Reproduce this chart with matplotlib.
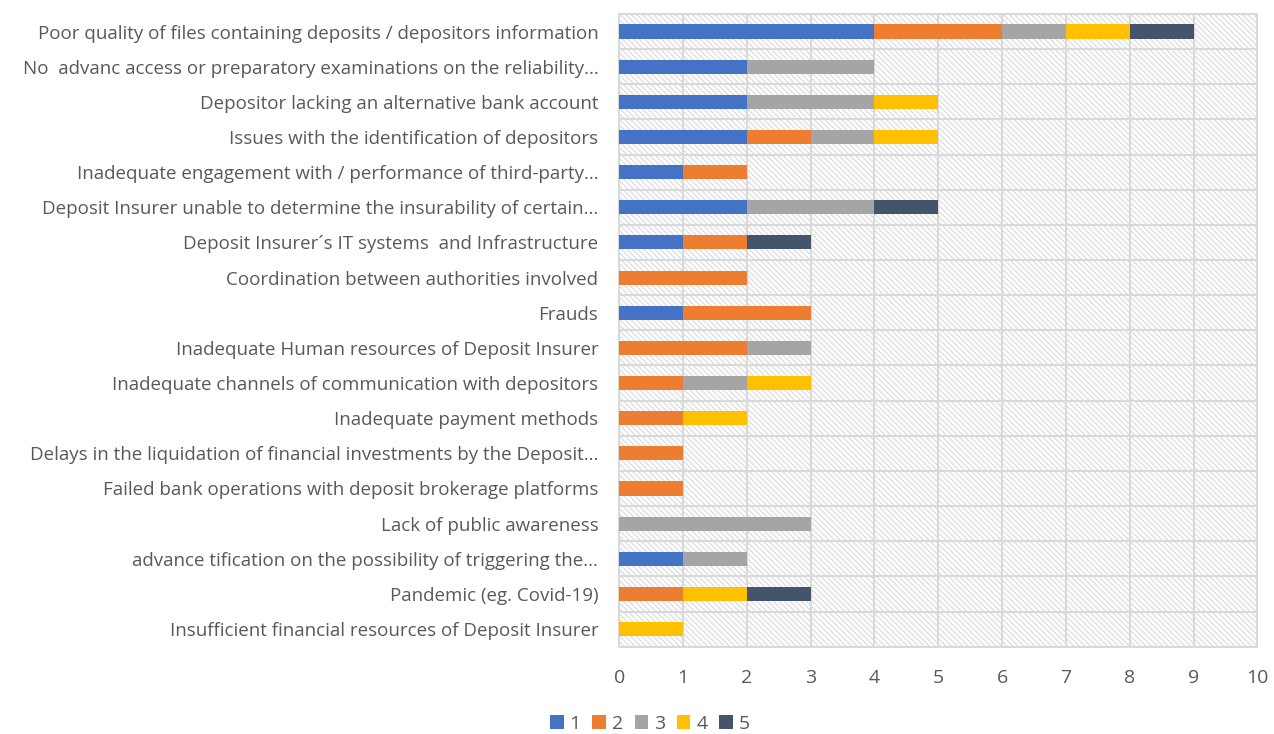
import matplotlib
matplotlib.use("Agg")
import matplotlib.pyplot as plt
from matplotlib.patches import Rectangle
import numpy as np

categories = [
    "Poor quality of files containing deposits / depositors information",
    "No  advanc access or preparatory examinations on the reliability...",
    "Depositor lacking an alternative bank account",
    "Issues with the identification of depositors",
    "Inadequate engagement with / performance of third-party...",
    "Deposit Insurer unable to determine the insurability of certain...",
    "Deposit Insurer\u00b4s IT systems  and Infrastructure",
    "Coordination between authorities involved",
    "Frauds",
    "Inadequate Human resources of Deposit Insurer",
    "Inadequate channels of communication with depositors",
    "Inadequate payment methods",
    "Delays in the liquidation of financial investments by the Deposit...",
    "Failed bank operations with deposit brokerage platforms",
    "Lack of public awareness",
    "advance tification on the possibility of triggering the...",
    "Pandemic (eg. Covid-19)",
    "Insufficient financial resources of Deposit Insurer",
]
s1 = [4, 2, 2, 2, 1, 2, 1, 0, 1, 0, 0, 0, 0, 0, 0, 1, 0, 0]
s2 = [2, 0, 0, 1, 1, 0, 1, 2, 2, 2, 1, 1, 1, 1, 0, 0, 1, 0]
s3 = [1, 2, 2, 1, 0, 2, 0, 0, 0, 1, 1, 0, 0, 0, 3, 1, 0, 0]
s4 = [1, 0, 1, 1, 0, 0, 0, 0, 0, 0, 1, 1, 0, 0, 0, 0, 1, 1]
s5 = [1, 0, 0, 0, 0, 1, 1, 0, 0, 0, 0, 0, 0, 0, 0, 0, 1, 0]
series = [s1, s2, s3, s4, s5]
series_names = ["1", "2", "3", "4", "5"]
colors = ["#4472C4", "#ED7D31", "#A5A5A5", "#FFC000", "#44546A"]

plt.rcParams['font.family'] = ['Open Sans', 'DejaVu Sans']
plt.rcParams['hatch.color'] = '#d9d9d9'
plt.rcParams['hatch.linewidth'] = 0.8

fig = plt.figure(figsize=(12.74, 7.34), dpi=100)
ax = fig.add_axes([0.486, 0.119, 0.501, 0.862])

grid_c = "#d9d9d9"
ax.add_patch(Rectangle((0, 0), 1, 1, transform=ax.transAxes, facecolor="white",
                       edgecolor=grid_c, hatch="\\" * 6, lw=0, zorder=0))

n = len(categories)
y = np.arange(n)
left = np.zeros(n)
for vals, name, c in zip(series, series_names, colors):
    ax.barh(y, vals, left=left, height=0.4, color=c, label=name, zorder=3)
    left += np.array(vals)

ax.set_xlim(0, 10)
ax.set_ylim(n - 0.5, -0.5)
ax.set_xticks(range(11))
ax.set_yticks(y)
ax.set_yticklabels(categories)
for xv in range(1, 10):
    ax.axvline(xv, color=grid_c, lw=1.5, zorder=1)
for yv in np.arange(0.5, n - 0.5, 1):
    ax.axhline(yv, color=grid_c, lw=1.5, zorder=1)
for sp in ax.spines.values():
    sp.set_color(grid_c)
    sp.set_linewidth(1.5)
ax.tick_params(length=0, labelsize=14, labelcolor="#595959")
ax.tick_params(axis='y', pad=15, labelsize=13.5)
ax.tick_params(axis='x', pad=16)

ax.legend(loc="center", bbox_to_anchor=(0.51, 0.014), ncol=5,
          frameon=False, fontsize=14, handlelength=0.7, handleheight=0.7,
          handletextpad=0.3, columnspacing=0.6, labelcolor="#595959",
          bbox_transform=fig.transFigure)

fig.savefig("out.png", dpi=100)
